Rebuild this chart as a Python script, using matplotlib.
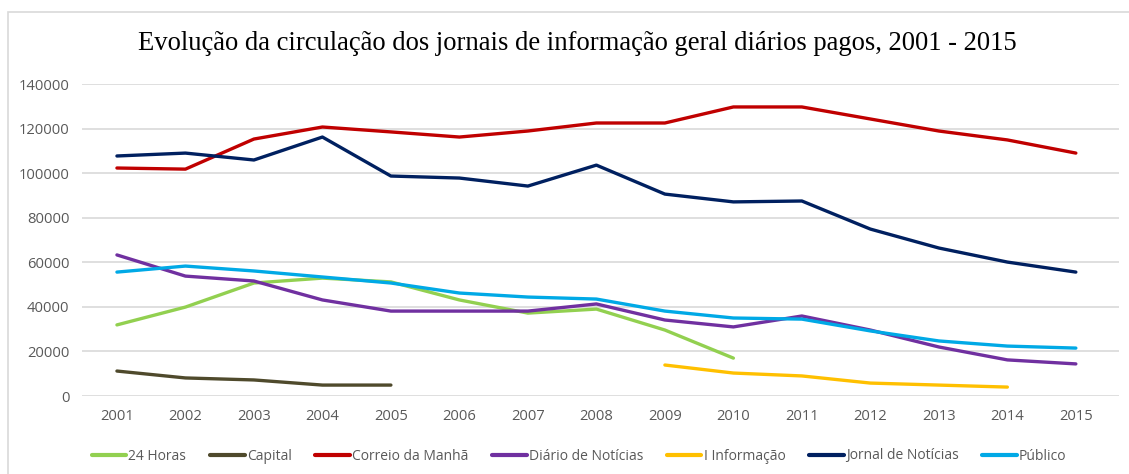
import matplotlib
matplotlib.use("Agg")
import matplotlib.pyplot as plt
from matplotlib.patches import Rectangle
import numpy as np

years = list(range(2001, 2016))

horas24 = [31900, 39900, 50700, 52900, 51200, 43100, 37200, 39000, 29600, 17000]
capital = [11200, 8100, 7200, 4900, 4900]
correio = [102300, 101800, 115300, 120700, 118500, 116200, 118900, 122500,
           122500, 129700, 129700, 124300, 118900, 114900, 109000]
diario = [63300, 53800, 51600, 43100, 38100, 38100, 38100, 41300, 34100,
          31000, 35900, 29600, 22000, 16200, 14400]
i_info = [13900, 10300, 9000, 5800, 4900, 4000]
jornal = [107700, 109000, 105900, 116200, 98700, 97800, 94200, 103600,
          90600, 87100, 87500, 74900, 66400, 60100, 55600]
publico = [55600, 58300, 56100, 53400, 50700, 46200, 44400, 43500, 38100,
           35000, 34500, 29200, 24700, 22400, 21500]

series = [
    ("24 Horas", years[:10], horas24, "#92D050"),
    ("Capital", years[:5], capital, "#4F4A2C"),
    ("Correio da Manhã", years, correio, "#C00000"),
    ("Diário de Notícias", years, diario, "#7030A0"),
    ("I Informação", years[8:14], i_info, "#FFC000"),
    ("Jornal de Notícias", years, jornal, "#002060"),
    ("Público", years, publico, "#00A9E6"),
]

title = "Evolução da circulação dos jornais de informação geral diários pagos, 2001 - 2015"

W, H = 1129, 474
fig = plt.figure(figsize=(W / 100, H / 100), dpi=100)
fig.patch.set_facecolor("white")

# outer chart border
fig.patches.append(Rectangle((8 / W, -0.1), 1.2, (H - 12) / H + 0.1,
                             transform=fig.transFigure, fill=False,
                             edgecolor="#D9D9D9", linewidth=1.2))

ax = fig.add_axes([82 / W, (H - 396) / H, (1119 - 82) / W, (396 - 84) / H])
for name, xs, ys, c in series:
    ax.plot(xs, ys, color=c, linewidth=2.4, label=name,
            solid_capstyle="round", clip_on=False)

ax.set_xlim(2000.49, 2015.63)
ax.set_ylim(0, 140000)
ax.set_yticks(np.arange(0, 140001, 20000))
ax.set_xticks(years)
ax.set_xticklabels([str(y) for y in years])
ax.grid(axis="y", color="#D9D9D9", linewidth=1.2)
ax.set_axisbelow(True)
for s in ax.spines.values():
    s.set_visible(False)
ax.tick_params(axis="both", length=0, labelsize=10.6, labelcolor="#595959")
ax.tick_params(axis="y", pad=9)
ax.tick_params(axis="x", pad=9)
for lab in ax.get_xticklabels() + ax.get_yticklabels():
    lab.set_family("Open Sans")

fig.text(577 / W, 1 - 43 / H, title, ha="center", va="center",
         family="Liberation Serif", fontsize=19.2, color="black")

leg = fig.legend(loc="center", bbox_to_anchor=(579 / W, 1 - 456 / H), ncol=7,
                 frameon=False, handlelength=2.5, handletextpad=0.15,
                 columnspacing=1.7,
                 prop={"family": "Open Sans", "size": 10})
for t in leg.get_texts():
    t.set_color("#595959")
for l in leg.get_lines():
    l.set_linewidth(3)

fig.savefig("out.png", dpi=100, facecolor="white")
